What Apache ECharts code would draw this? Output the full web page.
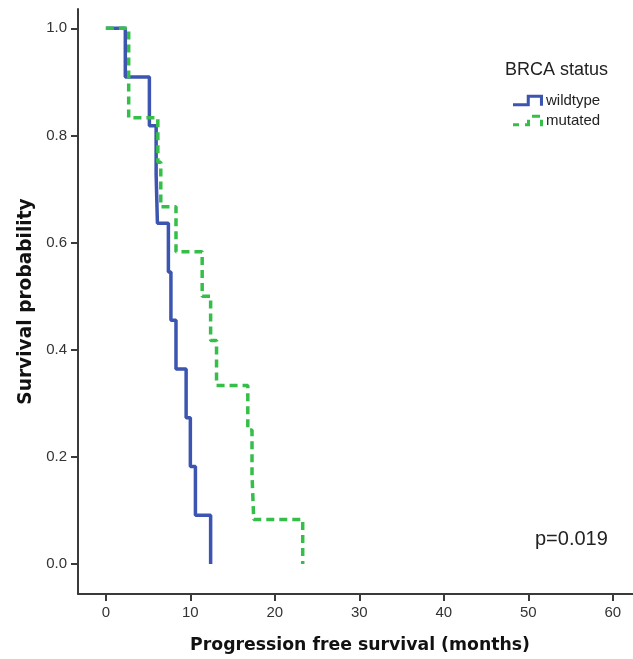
<!DOCTYPE html>
<html>
<head>
<meta charset="utf-8">
<script src="https://cdn.jsdelivr.net/npm/echarts@6/dist/echarts.min.js"></script>
<style>
html,body{margin:0;padding:0;background:#fff;overflow:hidden;}
#chart{width:633px;height:659px;}
</style>
</head>
<body>
<div id="chart"></div>
<script>
// Kaplan-Meier step data (time in months, survival probability after event)
var wildtypeTime = [0, 2.3, 5.15, 5.95, 6.1, 7.4, 7.7, 8.3, 9.5, 10.0, 10.6, 12.4];
var wildtypeSurv = [1.0, 0.909, 0.818, 0.727, 0.636, 0.545, 0.455, 0.364, 0.273, 0.182, 0.091, 0.0];
var mutatedTime = [0, 2.7, 6.15, 6.5, 8.3, 11.4, 12.4, 13.1, 16.8, 17.3, 17.5, 23.3];
var mutatedSurv = [1.0, 0.833, 0.75, 0.667, 0.583, 0.5, 0.417, 0.333, 0.25, 0.167, 0.083, 0.0];
var xTicks = [0, 10, 20, 30, 40, 50, 60];
var yTicks = [0, 0.2, 0.4, 0.6, 0.8, 1.0];
var seriesNames = ['wildtype', 'mutated'];
var legendTitle = 'BRCA status';
var pValueText = 'p=0.019';
var xTitle = 'Progression free survival (months)';
var yTitle = 'Survival probability';

function zip(a, b) { return a.map(function (v, i) { return [v, b[i]]; }); }

var chart = echarts.init(document.getElementById('chart'), null, {renderer: 'canvas'});
var axisColor = '#3a3a3a';
var option = {
  animation: false,
  backgroundColor: '#ffffff',
  grid: {left: 78, right: 0, top: 9, bottom: 62, containLabel: false},
  title: [
    {text: legendTitle, left: 505, top: 61, padding: 0,
     textStyle: {fontSize: 18, fontWeight: 'normal', fontFamily: 'Liberation Sans', color: '#222'}},
    {text: pValueText, left: 535, top: 529, padding: 0,
     textStyle: {fontSize: 20, fontWeight: 'normal', fontFamily: 'Liberation Sans', color: '#222'}}
  ],
  legend: {
    orient: 'vertical', left: 513, top: 93, padding: 0,
    itemWidth: 30, itemHeight: 12, itemGap: 5,
    textStyle: {fontSize: 15, fontFamily: 'Liberation Sans', color: '#222', padding: [0,0,0,-2]},
    data: [
      {name: seriesNames[0], icon: 'path://M0,8.5 H13.5 V0 H29.5 V11 H26.5 V3 H16.5 V11.5 H0 Z'},
      {name: seriesNames[1], icon: 'path://M0,8.5 H6 V11.5 H0 Z M12,8.5 H14 V5 H17 V11.5 H12 Z M19,0 H27 V3 H19 Z M27,5 H30 V11.5 H27 Z'}
    ]
  },
  xAxis: {
    type: 'value', min: -3.3, max: 62.4,
    name: xTitle, nameLocation: 'middle', nameGap: 43,
    nameTextStyle: {fontSize: 17.3, fontWeight: 'bold', fontFamily: 'DejaVu Sans', color: '#111', padding: [0,0,0,9]},
    axisLine: {show: true, onZero: false, lineStyle: {color: axisColor, width: 2}},
    axisTick: {show: true, length: 7, customValues: xTicks, lineStyle: {color: axisColor, width: 2}},
    axisLabel: {customValues: xTicks, margin: 11, fontSize: 15, fontFamily: 'Liberation Sans', color: '#333'},
    splitLine: {show: false}
  },
  yAxis: {
    type: 'value', min: -0.056, max: 1.036,
    name: yTitle, nameLocation: 'middle', nameGap: 42,
    nameTextStyle: {fontSize: 18.6, fontWeight: 'bold', fontFamily: 'DejaVu Sans', color: '#111'},
    axisLine: {show: true, onZero: false, lineStyle: {color: axisColor, width: 2}},
    axisTick: {show: true, length: 7, customValues: yTicks, lineStyle: {color: axisColor, width: 2}},
    axisLabel: {customValues: yTicks, margin: 11, fontSize: 15, fontFamily: 'Liberation Sans', color: '#333',
      formatter: function (v) { return v.toFixed(1); }},
    splitLine: {show: false}
  },
  series: [
    {name: seriesNames[0], type: 'line', step: 'end', symbol: 'none',
     data: zip(wildtypeTime, wildtypeSurv), color: '#3c55b0',
     lineStyle: {width: 3.5, color: '#3c55b0', type: 'solid'}},
    {name: seriesNames[1], type: 'line', step: 'end', symbol: 'none',
     data: zip(mutatedTime, mutatedSurv), color: '#35bf48',
     lineStyle: {width: 3.5, color: '#35bf48', type: [8, 5]}}
  ]
};
chart.setOption(option);
</script>
</body>
</html>
